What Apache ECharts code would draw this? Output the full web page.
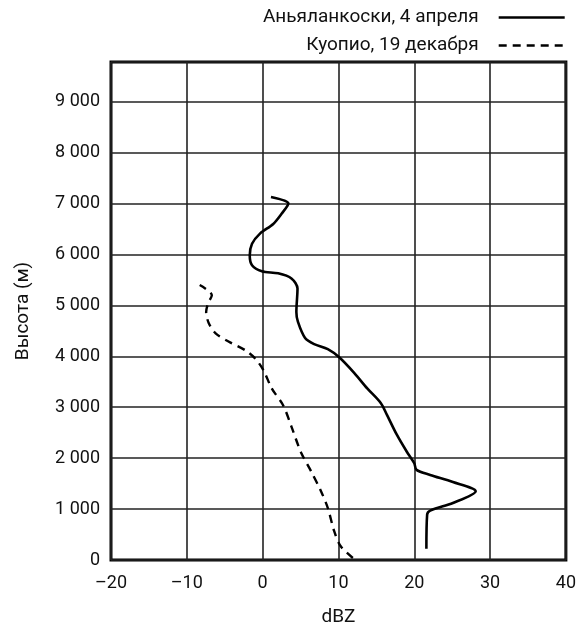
<!DOCTYPE html>
<html>
<head>
<meta charset="utf-8">
<script src="https://cdn.jsdelivr.net/npm/echarts@6/dist/echarts.min.js"></script>
<style>
  html, body { margin: 0; padding: 0; background: #fff; }
  #chart { width: 579px; height: 632px; }
</style>
</head>
<body>
<div id="chart"></div>
<script>
// profile names
var seriesNames = ['Аньяланкоски, 4 апреля', 'Куопио, 19 декабря'];

// [dBZ, height m], from bottom to top
var anjalankoski = [
  [21.6, 220], [21.7, 890], [22.1, 970], [25.1, 1120], [28.1, 1350], [25.1, 1530],
  [22.1, 1670], [20.3, 1770], [20.0, 1900], [19.0, 2130], [17.7, 2460], [16.4, 2850],
  [15.6, 3080], [13.8, 3370], [12.1, 3670], [10.1, 3980], [8.6, 4140], [6.8, 4240],
  [5.6, 4360], [4.65, 4680], [4.45, 4870], [4.6, 5330], [3.8, 5530], [2.05, 5630],
  [-0.1, 5670], [-1.4, 5790], [-1.7, 5980], [-1.4, 6210], [-0.35, 6410], [1.4, 6600],
  [2.5, 6800], [3.4, 7000], [1.1, 7130]
];
var kuopio = [
  [11.9, 40], [10.3, 270], [9.45, 560], [8.6, 1020], [7.7, 1350], [6.4, 1740],
  [5.1, 2100], [3.8, 2620], [2.7, 3040], [1.2, 3370], [0.1, 3730], [-1.0, 3960],
  [-2.3, 4120], [-4.5, 4290], [-6.2, 4450], [-7.1, 4650], [-7.45, 4870], [-7.2, 5040],
  [-6.7, 5200], [-8.3, 5400]
];

var xMin = -20, xMax = 40, xStep = 10;
var yMin = 0, yMax = 9780, yStep = 1000;

var font = 'Roboto, "Liberation Sans", sans-serif';
var chart = echarts.init(document.getElementById('chart'));

chart.setOption({
  animation: false,
  textStyle: { fontFamily: font, color: '#111' },
  grid: {
    left: 111, right: 13, top: 62, bottom: 70,
    show: true, borderColor: '#000', borderWidth: 3
  },
  legend: {
    orient: 'vertical', right: 13, top: 8, align: 'right', padding: 0,
    itemWidth: 66, itemHeight: 14, itemGap: 9,
    itemStyle: { opacity: 0 },
    lineStyle: { width: 2.6 },
    textStyle: { fontFamily: font, fontSize: 19, color: '#111', padding: [0, 15, 0, 0] },
    data: seriesNames
  },
  xAxis: {
    type: 'value', min: xMin, max: xMax, interval: xStep,
    name: 'dBZ', nameLocation: 'middle', nameGap: 48,
    nameTextStyle: { fontSize: 19, color: '#111' },
    axisLine: { show: false },
    axisTick: { show: false },
    axisLabel: {
      fontSize: 18, color: '#111', margin: 14,
      formatter: function (v) { return v < 0 ? '–' + Math.abs(v) : String(v); }
    },
    splitLine: { lineStyle: { color: '#222', width: 1.6 } }
  },
  yAxis: {
    type: 'value', min: yMin, max: yMax, interval: yStep,
    name: 'Высота (м)', nameLocation: 'middle', nameGap: 78, nameRotate: 90,
    nameTextStyle: { fontSize: 19, color: '#111' },
    axisLine: { show: false },
    axisTick: { show: false },
    axisLabel: {
      fontSize: 18, color: '#111', margin: 11,
      formatter: function (v) {
        if (v % 1000 !== 0) return '';
        return v === 0 ? '0' : (v / 1000) + ' 000';
      }
    },
    splitLine: { lineStyle: { color: '#222', width: 1.6 } }
  },
  series: [
    {
      name: seriesNames[0], type: 'line', data: anjalankoski,
      smooth: 0.3, symbol: 'none',
      lineStyle: { color: '#000', width: 2.6 },
      itemStyle: { color: '#000' }
    },
    {
      name: seriesNames[1], type: 'line', data: kuopio,
      smooth: 0.3, symbol: 'none',
      lineStyle: { color: '#000', width: 2.4, type: [8, 6] },
      itemStyle: { color: '#000' }
    }
  ]
});
</script>
</body>
</html>
